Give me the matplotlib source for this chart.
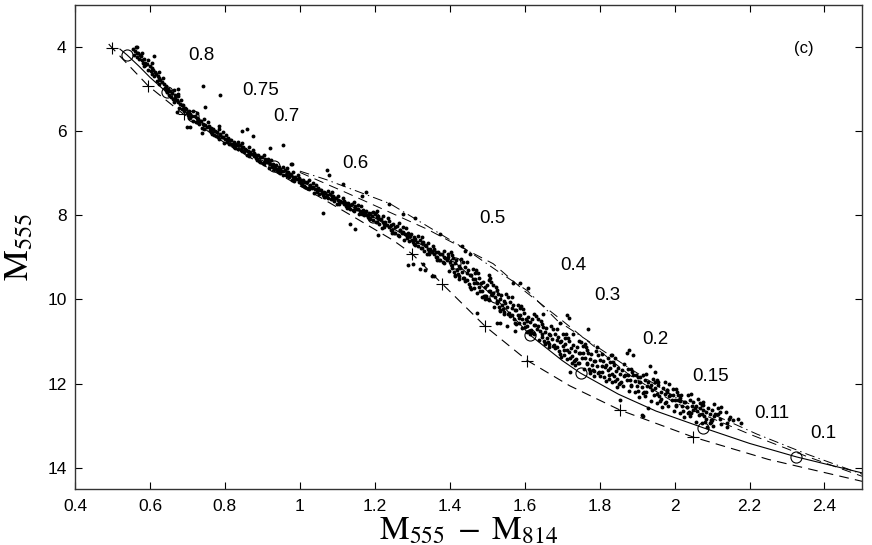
import matplotlib
matplotlib.use('Agg')
import matplotlib.pyplot as plt

plt.rcParams['mathtext.fontset'] = 'stix'
plt.rcParams['lines.scale_dashes'] = False

# main sequence stars (column by column)
star_color = [
    0.563, 0.556, 0.561, 0.565, 0.558,
    0.577, 0.584, 0.579, 0.582, 0.586,
    0.605, 0.600, 0.606, 0.595, 0.602,
    0.623, 0.616, 0.621, 0.625, 0.618,
    0.637, 0.644, 0.639, 0.642, 0.646,
    0.665, 0.660, 0.666, 0.655, 0.662,
    0.683, 0.676, 0.681, 0.685, 0.678,
    0.697, 0.704, 0.699, 0.702, 0.706,
    0.725, 0.720, 0.726, 0.715, 0.722,
    0.743, 0.736, 0.741, 0.745, 0.738,
    0.757, 0.764, 0.759, 0.762, 0.766,
    0.785, 0.780, 0.786, 0.775, 0.782,
    0.803, 0.796, 0.801, 0.805, 0.798,
    0.817, 0.824, 0.819, 0.822, 0.826,
    0.845, 0.840, 0.846, 0.835, 0.842,
    0.863, 0.856, 0.861, 0.865, 0.858,
    0.877, 0.884, 0.879, 0.882, 0.886,
    0.905, 0.900, 0.906, 0.895, 0.902,
    0.923, 0.916, 0.921, 0.925, 0.918,
    0.937, 0.944, 0.939, 0.942, 0.946,
    0.965, 0.960, 0.966, 0.955, 0.962,
    0.983, 0.976, 0.981, 0.985, 0.978,
    0.997, 1.004, 0.999, 1.002, 1.006,
    1.025, 1.020, 1.026, 1.015, 1.022,
    1.043, 1.036, 1.041, 1.045, 1.038,
    1.057, 1.064, 1.059, 1.062, 1.066,
    1.085, 1.080, 1.086, 1.075, 1.082,
    1.103, 1.096, 1.101, 1.105, 1.098,
    1.117, 1.124, 1.119, 1.122, 1.126,
    1.145, 1.140, 1.146, 1.135, 1.142,
    1.163, 1.156, 1.161, 1.165, 1.158,
    1.177, 1.184, 1.179, 1.182, 1.186,
    1.205, 1.200, 1.206, 1.195, 1.202,
    1.223, 1.216, 1.221, 1.225, 1.218,
    1.237, 1.244, 1.239, 1.242, 1.246,
    1.265, 1.260, 1.266, 1.255, 1.262,
    1.283, 1.276, 1.281, 1.285, 1.278,
    1.297, 1.304, 1.299, 1.302, 1.306,
    1.325, 1.320, 1.326, 1.315, 1.322,
    1.343, 1.336, 1.341, 1.345, 1.338,
    1.357, 1.364, 1.359, 1.362, 1.366,
    1.385, 1.380, 1.386, 1.375, 1.382,
    1.403, 1.396, 1.401, 1.405, 1.398, 1.407,
    1.417, 1.424, 1.419, 1.422, 1.426, 1.414,
    1.445, 1.440, 1.446, 1.435, 1.442, 1.438,
    1.463, 1.456, 1.461, 1.465, 1.458, 1.467,
    1.477, 1.484, 1.479, 1.482, 1.486, 1.474,
    1.505, 1.500, 1.506, 1.495, 1.502, 1.498,
    1.523, 1.516, 1.521, 1.525, 1.518, 1.527,
    1.537, 1.544, 1.539, 1.542, 1.546, 1.534,
    1.565, 1.560, 1.566, 1.555, 1.562, 1.558,
    1.583, 1.576, 1.581, 1.585, 1.578, 1.587,
    1.597, 1.604, 1.599, 1.602, 1.606, 1.594,
    1.625, 1.620, 1.626, 1.615, 1.622, 1.618,
    1.643, 1.636, 1.641, 1.645, 1.638, 1.647,
    1.657, 1.664, 1.659, 1.662, 1.666, 1.654,
    1.685, 1.680, 1.686, 1.675, 1.682, 1.678,
    1.703, 1.696, 1.701, 1.705, 1.698, 1.707,
    1.717, 1.724, 1.719, 1.722, 1.726, 1.714,
    1.745, 1.740, 1.746, 1.735, 1.742, 1.738,
    1.763, 1.756, 1.761, 1.765, 1.758, 1.767,
    1.777, 1.784, 1.779, 1.782, 1.786, 1.774,
    1.805, 1.800, 1.806, 1.795, 1.802, 1.798,
    1.823, 1.816, 1.821, 1.825, 1.818, 1.827,
    1.837, 1.844, 1.839, 1.842, 1.846, 1.834,
    1.865, 1.860, 1.866, 1.855, 1.862, 1.858,
    1.883, 1.876, 1.881, 1.885, 1.878, 1.887,
    1.897, 1.904, 1.899, 1.902, 1.906, 1.894,
    1.925, 1.920, 1.926, 1.915, 1.922, 1.918,
    1.943, 1.936, 1.941, 1.945, 1.938, 1.947,
    1.957, 1.964, 1.959, 1.962, 1.966, 1.954,
    1.985, 1.980, 1.986, 1.975, 1.982, 1.978,
    2.003, 1.996, 2.001, 2.005, 1.998, 2.007,
    2.017, 2.024, 2.019, 2.022, 2.026, 2.014,
    2.045, 2.040, 2.046, 2.035, 2.042, 2.038,
    2.063, 2.056, 2.061, 2.065, 2.058, 2.067,
    2.077, 2.084, 2.079, 2.082, 2.086, 2.074,
    2.105, 2.100, 2.106, 2.095, 2.102, 2.098,
    2.123, 2.116, 2.121, 2.125,
    2.137, 2.144, 2.139,
]
star_mag = [
    4.00, 4.05, 4.10, 4.14, 4.20,
    4.22, 4.28, 4.32, 4.37, 4.42,
    4.38, 4.44, 4.49, 4.55, 4.58,
    4.60, 4.65, 4.70, 4.74, 4.80,
    4.87, 4.93, 4.97, 5.02, 5.07,
    5.03, 5.09, 5.14, 5.20, 5.23,
    5.25, 5.30, 5.35, 5.39, 5.45,
    5.47, 5.53, 5.57, 5.62, 5.67,
    5.58, 5.64, 5.69, 5.75, 5.78,
    5.72, 5.77, 5.82, 5.86, 5.92,
    5.87, 5.93, 5.97, 6.02, 6.07,
    5.95, 6.01, 6.06, 6.12, 6.15,
    6.08, 6.14, 6.18, 6.22, 6.27,
    6.21, 6.26, 6.30, 6.34, 6.39,
    6.27, 6.32, 6.37, 6.43, 6.45,
    6.38, 6.44, 6.48, 6.52, 6.57,
    6.51, 6.56, 6.60, 6.64, 6.69,
    6.57, 6.62, 6.67, 6.73, 6.75,
    6.68, 6.74, 6.78, 6.82, 6.87,
    6.81, 6.86, 6.90, 6.94, 6.99,
    6.87, 6.92, 6.97, 7.03, 7.05,
    6.98, 7.04, 7.08, 7.12, 7.17,
    7.11, 7.16, 7.20, 7.24, 7.29,
    7.17, 7.22, 7.27, 7.33, 7.35,
    7.27, 7.33, 7.37, 7.41, 7.46,
    7.39, 7.44, 7.48, 7.52, 7.57,
    7.44, 7.49, 7.54, 7.60, 7.62,
    7.53, 7.59, 7.63, 7.67, 7.72,
    7.65, 7.70, 7.74, 7.78, 7.83,
    7.69, 7.74, 7.79, 7.85, 7.87,
    7.79, 7.85, 7.89, 7.93, 7.98,
    7.90, 7.95, 7.99, 8.03, 8.08,
    7.89, 7.96, 8.04, 8.12, 8.16,
    8.01, 8.09, 8.15, 8.20, 8.29,
    8.14, 8.22, 8.28, 8.34, 8.41,
    8.19, 8.26, 8.34, 8.42, 8.46,
    8.31, 8.39, 8.45, 8.50, 8.59,
    8.44, 8.52, 8.58, 8.64, 8.71,
    8.51, 8.58, 8.66, 8.74, 8.78,
    8.65, 8.73, 8.79, 8.84, 8.93,
    8.79, 8.87, 8.93, 8.99, 9.06,
    8.84, 8.91, 8.99, 9.07, 9.11,
    8.86, 9.00, 9.10, 9.19, 9.33, 8.94,
    9.06, 9.20, 9.29, 9.39, 9.51, 9.42,
    9.11, 9.23, 9.37, 9.50, 9.56, 9.49,
    9.28, 9.42, 9.52, 9.61, 9.75, 9.36,
    9.48, 9.62, 9.71, 9.81, 9.93, 9.84,
    9.53, 9.65, 9.79, 9.92, 9.98, 9.91,
    9.70, 9.84, 9.94, 10.03, 10.17, 9.78,
    9.90, 10.04, 10.13, 10.23, 10.35, 10.26,
    9.95, 10.07, 10.21, 10.34, 10.40, 10.33,
    10.12, 10.26, 10.36, 10.45, 10.59, 10.20,
    10.32, 10.46, 10.55, 10.65, 10.77, 10.68,
    10.35, 10.47, 10.61, 10.74, 10.80, 10.73,
    10.50, 10.64, 10.74, 10.83, 10.97, 10.58,
    10.68, 10.82, 10.91, 11.01, 11.13, 11.04,
    10.71, 10.83, 10.97, 11.10, 11.16, 11.09,
    10.82, 10.98, 11.10, 11.21, 11.36, 10.91,
    10.99, 11.15, 11.25, 11.38, 11.52, 11.41,
    10.99, 11.13, 11.28, 11.44, 11.51, 11.42,
    11.12, 11.28, 11.40, 11.51, 11.66, 11.21,
    11.29, 11.45, 11.55, 11.68, 11.82, 11.71,
    11.29, 11.43, 11.58, 11.74, 11.81, 11.72,
    11.40, 11.56, 11.68, 11.79, 11.94, 11.49,
    11.55, 11.71, 11.81, 11.94, 12.08, 11.97,
    11.53, 11.67, 11.82, 11.98, 12.05, 11.96,
    11.64, 11.80, 11.92, 12.03, 12.18, 11.73,
    11.79, 11.95, 12.05, 12.18, 12.32, 12.21,
    11.77, 11.91, 12.06, 12.22, 12.29, 12.20,
    11.88, 12.04, 12.16, 12.27, 12.42, 11.97,
    12.03, 12.19, 12.29, 12.42, 12.56, 12.45,
    12.01, 12.15, 12.30, 12.46, 12.53, 12.44,
    12.12, 12.28, 12.40, 12.51, 12.66, 12.21,
    12.27, 12.43, 12.53, 12.66, 12.80, 12.69,
    12.25, 12.39, 12.54, 12.70, 12.77, 12.68,
    12.36, 12.52, 12.64, 12.75, 12.90, 12.45,
    12.51, 12.67, 12.77, 12.90, 13.04, 12.93,
    12.49, 12.63, 12.78, 12.94, 13.01, 12.92,
    12.56, 12.72, 12.84, 12.95,
    12.67, 12.83, 12.93,
]

# more stars in the dense core of the sequence, between the columns above
core_color = [
    0.568, 0.574, 0.565, 0.571,
    0.595, 0.587, 0.592, 0.584,
    0.608, 0.614, 0.605, 0.611,
    0.635, 0.627, 0.632, 0.624,
    0.648, 0.654, 0.645, 0.651,
    0.675, 0.667, 0.672, 0.664,
    0.688, 0.694, 0.685, 0.691,
    0.715, 0.707, 0.712, 0.704,
    0.728, 0.734, 0.725, 0.731,
    0.755, 0.747, 0.752, 0.744,
    0.768, 0.774, 0.765, 0.771,
    0.795, 0.787, 0.792, 0.784,
    0.808, 0.814, 0.805, 0.811,
    0.835, 0.827, 0.832, 0.824,
    0.848, 0.854, 0.845, 0.851,
    0.875, 0.867, 0.872, 0.864,
    0.888, 0.894, 0.885, 0.891,
    0.915, 0.907, 0.912, 0.904,
    0.928, 0.934, 0.925, 0.931,
    0.955, 0.947, 0.952, 0.944,
    0.968, 0.974, 0.965, 0.971,
    0.995, 0.987, 0.992, 0.984,
    1.008, 1.014, 1.005, 1.011,
    1.035, 1.027, 1.032, 1.024,
    1.048, 1.054, 1.045, 1.051,
    1.075, 1.067, 1.072, 1.064,
    1.088, 1.094, 1.085, 1.091,
    1.115, 1.107, 1.112, 1.104,
    1.128, 1.134, 1.125, 1.131,
    1.155, 1.147, 1.152, 1.144,
    1.168, 1.174, 1.165, 1.171,
    1.195, 1.187, 1.192, 1.184,
    1.208, 1.214, 1.205, 1.211,
    1.235, 1.227, 1.232, 1.224,
    1.248, 1.254, 1.245, 1.251,
    1.275, 1.267, 1.272, 1.264,
    1.288, 1.294, 1.285, 1.291,
    1.315, 1.307, 1.312, 1.304,
    1.328, 1.334, 1.325, 1.331,
    1.355, 1.347, 1.352, 1.344,
    1.368, 1.374, 1.365, 1.371,
    1.395, 1.387, 1.392, 1.384,
    1.408, 1.414, 1.405, 1.411, 1.413,
    1.435, 1.427, 1.432, 1.424, 1.429,
    1.448, 1.454, 1.445, 1.451, 1.453,
    1.475, 1.467, 1.472, 1.464, 1.469,
    1.488, 1.494, 1.485, 1.491, 1.493,
    1.515, 1.507, 1.512, 1.504, 1.509,
    1.528, 1.534, 1.525, 1.531, 1.533,
    1.555, 1.547, 1.552, 1.544, 1.549,
    1.568, 1.574, 1.565, 1.571, 1.573,
    1.595, 1.587, 1.592, 1.584, 1.589,
    1.608, 1.614, 1.605, 1.611, 1.613,
    1.635, 1.627, 1.632, 1.624, 1.629,
    1.648, 1.654, 1.645, 1.651, 1.653,
    1.675, 1.667, 1.672, 1.664, 1.669,
    1.688, 1.694, 1.685, 1.691, 1.693,
    1.715, 1.707, 1.712, 1.704, 1.709,
    1.728, 1.734, 1.725, 1.731, 1.733,
    1.755, 1.747, 1.752, 1.744, 1.749,
    1.768, 1.774, 1.765, 1.771, 1.773,
    1.795, 1.787, 1.792, 1.784, 1.789,
    1.808, 1.814, 1.805, 1.811,
    1.835, 1.827, 1.832, 1.824,
    1.848, 1.854, 1.845, 1.851,
    1.875, 1.867, 1.872,
    1.888, 1.894, 1.885,
    1.915, 1.907, 1.912,
    1.928, 1.934, 1.925,
    1.955, 1.947, 1.952,
    1.968, 1.974, 1.965,
    1.995, 1.987, 1.992,
    2.008, 2.014, 2.005,
    2.035, 2.027, 2.032,
    2.048, 2.054, 2.045,
    2.075, 2.067, 2.072,
    2.088, 2.094, 2.085,
    2.115, 2.107,
]
core_mag = [
    4.14, 4.19, 4.23, 4.28,
    4.31, 4.37, 4.41, 4.46,
    4.54, 4.59, 4.63, 4.68,
    4.73, 4.79, 4.84, 4.88,
    4.99, 5.04, 5.08, 5.13,
    5.16, 5.22, 5.26, 5.31,
    5.39, 5.44, 5.48, 5.53,
    5.53, 5.59, 5.64, 5.68,
    5.70, 5.75, 5.79, 5.84,
    5.79, 5.85, 5.90, 5.94,
    5.95, 6.00, 6.04, 6.09,
    6.03, 6.09, 6.14, 6.18,
    6.17, 6.22, 6.26, 6.30,
    6.25, 6.30, 6.34, 6.38,
    6.37, 6.42, 6.46, 6.50,
    6.45, 6.50, 6.54, 6.58,
    6.57, 6.62, 6.66, 6.70,
    6.65, 6.70, 6.74, 6.78,
    6.77, 6.82, 6.86, 6.90,
    6.85, 6.90, 6.94, 6.98,
    6.97, 7.02, 7.06, 7.10,
    7.05, 7.10, 7.14, 7.18,
    7.17, 7.22, 7.26, 7.30,
    7.24, 7.30, 7.34, 7.38,
    7.36, 7.40, 7.45, 7.49,
    7.42, 7.48, 7.52, 7.56,
    7.53, 7.58, 7.62, 7.66,
    7.59, 7.65, 7.69, 7.73,
    7.70, 7.75, 7.79, 7.83,
    7.76, 7.82, 7.86, 7.90,
    7.87, 7.92, 7.96, 8.00,
    7.93, 7.98, 8.02, 8.06,
    8.01, 8.08, 8.15, 8.21,
    8.07, 8.16, 8.22, 8.28,
    8.21, 8.28, 8.35, 8.41,
    8.27, 8.36, 8.42, 8.48,
    8.41, 8.48, 8.55, 8.61,
    8.48, 8.57, 8.63, 8.69,
    8.64, 8.71, 8.78, 8.84,
    8.72, 8.80, 8.86, 8.93,
    8.86, 8.93, 9.00, 9.06,
    8.92, 9.01, 9.07, 9.13,
    9.02, 9.14, 9.25, 9.35, 9.43,
    9.10, 9.24, 9.34, 9.45, 9.03,
    9.30, 9.42, 9.53, 9.63, 9.71,
    9.38, 9.52, 9.62, 9.73, 9.31,
    9.58, 9.70, 9.81, 9.91, 9.99,
    9.66, 9.80, 9.90, 10.01, 9.59,
    9.86, 9.98, 10.09, 10.19, 10.27,
    9.94, 10.08, 10.18, 10.29, 9.87,
    10.14, 10.26, 10.37, 10.47, 10.55,
    10.22, 10.36, 10.46, 10.57, 10.15,
    10.41, 10.53, 10.64, 10.74, 10.82,
    10.47, 10.61, 10.71, 10.82, 10.40,
    10.65, 10.77, 10.88, 10.98, 11.06,
    10.71, 10.85, 10.95, 11.06, 10.64,
    10.89, 11.01, 11.12, 11.22, 11.30,
    10.91, 11.06, 11.19, 11.31, 10.82,
    11.08, 11.22, 11.34, 11.46, 11.55,
    11.11, 11.26, 11.39, 11.51, 11.02,
    11.28, 11.42, 11.54, 11.66, 11.75,
    11.31, 11.46, 11.59, 11.71, 11.22,
    11.47, 11.61, 11.73, 11.85,
    11.48, 11.63, 11.76, 11.88,
    11.63, 11.77, 11.89, 12.01,
    11.64, 11.79, 11.92,
    11.79, 11.93, 12.05,
    11.80, 11.95, 12.08,
    11.95, 12.09, 12.21,
    11.96, 12.11, 12.24,
    12.11, 12.25, 12.37,
    12.12, 12.27, 12.40,
    12.27, 12.41, 12.53,
    12.28, 12.43, 12.56,
    12.43, 12.57, 12.69,
    12.44, 12.59, 12.72,
    12.59, 12.73, 12.85,
    12.58, 12.73,
]

# stars scattered away from the ridge
field_color = [
    0.566, 0.579, 0.611, 0.742, 0.787, 0.675, 0.675, 0.747, 0.846, 0.859,
    0.875, 0.921, 0.955, 0.707, 0.785, 0.977, 1.073, 1.078, 1.116, 1.166,
    1.177, 1.238, 1.062, 1.134, 1.148, 1.276, 1.308, 1.375, 1.329, 1.302,
    0.699, 0.739, 0.672, 0.980, 1.209, 1.289, 1.335, 1.359, 1.433, 1.441,
    1.505, 1.588, 1.610, 1.527, 1.553, 1.575, 1.607, 1.455, 1.353, 1.508,
    1.570, 1.714, 1.717, 1.695, 1.770, 1.730, 1.794, 1.834, 1.874, 1.890,
    1.935, 1.949, 1.954, 1.903, 1.975, 1.980, 2.015, 2.034, 2.074, 2.077,
    2.096, 2.122, 2.149, 2.157, 2.176, 1.917, 1.473, 1.535, 1.321, 1.877,
    1.829, 1.842, 1.909, 1.980, 2.010, 2.100, 1.722, 1.855, 1.914, 1.930,
    2.050, 2.168, 2.140, 1.760, 1.650,
]
field_mag = [
    4.00, 4.14, 4.21, 4.92, 5.14, 4.99, 5.11, 5.42, 5.99, 5.94,
    6.12, 6.40, 6.32, 5.89, 5.87, 6.77, 6.93, 7.03, 7.26, 7.55,
    7.45, 7.74, 7.95, 8.21, 8.33, 7.97, 8.07, 8.45, 9.16, 9.16,
    5.89, 6.05, 5.54, 6.79, 8.47, 9.18, 9.30, 9.44, 8.73, 8.85,
    9.41, 9.62, 9.72, 10.57, 10.62, 10.74, 10.50, 8.92, 9.44, 9.48,
    9.60, 10.38, 10.45, 10.57, 10.69, 10.81, 11.14, 11.33, 11.26, 11.33,
    11.57, 11.73, 11.92, 11.85, 11.97, 12.20, 12.35, 12.56, 12.51, 12.63,
    12.87, 12.68, 12.79, 12.87, 12.94, 12.77, 10.31, 10.55, 9.28, 11.21,
    11.33, 11.38, 11.85, 12.16, 12.39, 12.87, 11.73, 12.39, 12.75, 12.58,
    12.63, 12.84, 13.02, 11.05, 10.35,
]

# isochrone (solid) and its mass points
iso_color = [0.52, 0.539, 0.57, 0.60, 0.65, 0.715, 0.80, 0.90, 1.00, 1.10, 1.196, 1.30,
             1.415, 1.52, 1.615, 1.70, 1.749, 1.85, 1.95, 2.077, 2.20, 2.325, 2.50]
iso_mag = [4.05, 4.19, 4.45, 4.72, 5.12, 5.65, 6.20, 6.70, 7.18, 7.62, 8.04, 8.58,
           9.13, 9.95, 10.85, 11.45, 11.75, 12.25, 12.65, 13.05, 13.42, 13.74, 14.12]
circ_color = [0.539, 0.645, 0.715, 0.93, 1.196, 1.415, 1.52, 1.615, 1.749, 2.077, 2.325]
circ_mag = [4.19, 5.08, 5.65, 6.82, 8.04, 9.13, 9.95, 10.85, 11.75, 13.05, 13.74]

# lower dashed model with crosses
lo_color = [0.49, 0.499, 0.595, 0.69, 0.80, 0.95, 1.05, 1.15, 1.25, 1.30, 1.38,
            1.495, 1.607, 1.72, 1.855, 2.05, 2.25, 2.50]
lo_mag = [3.93, 4.02, 4.92, 5.60, 6.28, 7.05, 7.55, 8.07, 8.60, 8.92, 9.63,
          10.64, 11.45, 12.05, 12.63, 13.27, 13.80, 14.32]
cross_color = [0.499, 0.595, 0.69, 1.30, 1.38, 1.495, 1.607, 1.855, 2.05]
cross_mag = [4.02, 4.92, 5.60, 8.92, 9.63, 10.64, 11.45, 12.63, 13.27]

# upper dashed and dash-dot models
hi_color = [1.00, 1.126, 1.34, 1.41, 1.516, 1.60, 1.70, 1.88, 2.00, 2.20, 2.35, 2.50]
hi_mag = [6.98, 7.47, 8.33, 8.66, 9.15, 9.80, 10.50, 11.80, 12.45, 13.20, 13.72, 14.20]
dd_color = [1.00, 1.07, 1.24, 1.447, 1.535, 1.607, 1.687, 1.874, 2.007, 2.22, 2.355, 2.50]
dd_mag = [6.95, 7.15, 7.72, 8.83, 9.37, 9.79, 10.50, 11.60, 12.35, 13.20, 13.68, 14.15]

mass_labels = ['0.8', '0.75', '0.7', '0.6', '0.5', '0.4', '0.3', '0.2', '0.15', '0.11', '0.1']
label_color = [0.738, 0.896, 0.965, 1.147, 1.515, 1.729, 1.82, 1.948, 2.095, 2.26, 2.397]
label_mag = [4.20, 5.03, 5.64, 6.76, 8.08, 9.20, 9.91, 10.95, 11.83, 12.70, 13.18]

fig = plt.figure(figsize=(8.72, 5.45), dpi=100)
ax = fig.add_axes([0.086, 0.103, 0.9025, 0.888])

for cx, cy in [(star_color, star_mag), (core_color, core_mag), (field_color, field_mag)]:
    ax.plot(cx, cy, 'o', color='k', ms=2.8, mew=0, zorder=2)

ax.plot(iso_color, iso_mag, '-', color='k', lw=0.8, zorder=3)
ax.plot(circ_color, circ_mag, 'o', mfc='none', mec='k', ms=8, mew=0.8, zorder=4)
ax.plot(lo_color, lo_mag, color='k', lw=0.8, dashes=(7, 4.5), zorder=3)
ax.plot(cross_color, cross_mag, '+', color='k', ms=8, mew=0.8, zorder=4)
ax.plot(hi_color, hi_mag, color='k', lw=0.7, dashes=(7, 4.5), zorder=3)
ax.plot(dd_color, dd_mag, color='k', lw=0.7, dashes=(7, 3, 1, 3), zorder=3)

for lab, cx, cy in zip(mass_labels, label_color, label_mag):
    ax.text(cx, cy, lab, ha='center', va='center', fontsize=13.5,
            family=['Liberation Sans', 'DejaVu Sans'])
ax.text(2.344, 4.03, '(c)', ha='center', va='center', fontsize=12,
        family=['Liberation Sans', 'DejaVu Sans'])

ax.set_xlim(0.4, 2.5)
ax.set_ylim(14.5, 3.0)
ax.set_xticks([0.4, 0.6, 0.8, 1.0, 1.2, 1.4, 1.6, 1.8, 2.0, 2.2, 2.4])
ax.set_xticklabels(['0.4', '0.6', '0.8', '1', '1.2', '1.4', '1.6', '1.8', '2', '2.2', '2.4'])
ax.set_yticks([4, 6, 8, 10, 12, 14])
ax.tick_params(direction='in', top=True, right=True, length=5, width=0.8,
               labelsize=12.5, pad=6)
ax.tick_params(axis='x', pad=7)
for t in ax.get_xticklabels() + ax.get_yticklabels():
    t.set_family(['Liberation Sans', 'DejaVu Sans'])
for s in ax.spines.values():
    s.set_linewidth(1.0)
    s.set_color('#333333')

ax.set_xlabel(r'$\mathrm{M_{555}\;-\;M_{814}}$', fontsize=24, labelpad=0)
ax.set_ylabel(r'$\mathrm{M_{555}}$', fontsize=25, labelpad=9)

fig.savefig('out.png', dpi=100)
